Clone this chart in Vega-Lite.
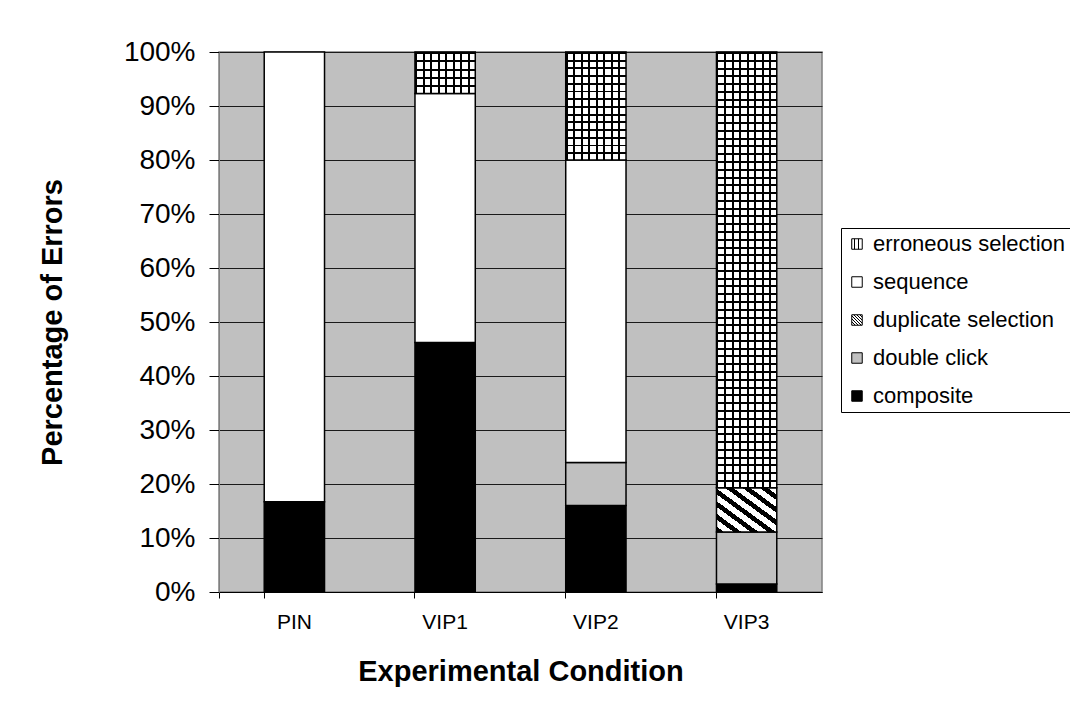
{
  "$schema": "https://vega.github.io/schema/vega-lite/v6.json",
  "width": 603,
  "height": 540,
  "autosize": {"type": "none"},
  "padding": {"left": 219, "top": 52, "right": 248, "bottom": 128},
  "background": "#ffffff",
  "config": {
    "font": "Liberation Sans",
    "view": {"fill": "#C0C0C0", "stroke": "#808080", "strokeWidth": 1.5},
    "axis": {"labelFont": "Liberation Sans", "titleFont": "Liberation Sans", "labelColor": "#000000", "titleColor": "#000000"}
  },
  "data": {
    "values": [
      {"group": "PIN", "type": "composite", "rank": 1, "pct": 16.7},
      {"group": "PIN", "type": "sequence", "rank": 4, "pct": 83.3},
      {"group": "VIP1", "type": "composite", "rank": 1, "pct": 46.2},
      {"group": "VIP1", "type": "sequence", "rank": 4, "pct": 46.1},
      {"group": "VIP1", "type": "erroneous selection", "rank": 5, "pct": 7.7},
      {"group": "VIP2", "type": "composite", "rank": 1, "pct": 16},
      {"group": "VIP2", "type": "double click", "rank": 2, "pct": 8},
      {"group": "VIP2", "type": "sequence", "rank": 4, "pct": 56},
      {"group": "VIP2", "type": "erroneous selection", "rank": 5, "pct": 20},
      {"group": "VIP3", "type": "composite", "rank": 1, "pct": 1.5},
      {"group": "VIP3", "type": "double click", "rank": 2, "pct": 9.6},
      {"group": "VIP3", "type": "duplicate selection", "rank": 3, "pct": 8.2},
      {"group": "VIP3", "type": "erroneous selection", "rank": 5, "pct": 80.7}
    ]
  },
  "encoding": {
    "x": {
      "field": "group",
      "type": "nominal",
      "sort": ["PIN", "VIP1", "VIP2", "VIP3"],
      "scale": {"paddingInner": 0.6, "paddingOuter": 0.3},
      "axis": {
        "title": "Experimental Condition",
        "titleFontSize": 29,
        "titleFontWeight": "bold",
        "titlePadding": 25,
        "labelFontSize": 21,
        "labelAngle": 0,
        "labelPadding": 13,
        "tickSize": 6,
        "tickColor": "#000000",
        "domainColor": "#000000",
        "bandPosition": 0,
        "tickExtra": true,
        "grid": false
      }
    },
    "y": {
      "field": "pct",
      "type": "quantitative",
      "stack": "normalize",
      "scale": {"domain": [0, 1]},
      "axis": {
        "title": "Percentage of Errors",
        "titleFontSize": 29,
        "titleFontWeight": "bold",
        "titlePadding": 56,
        "labelFontSize": 28,
        "labelPadding": 14,
        "tickSize": 10,
        "tickColor": "#000000",
        "domainColor": "#808080",
        "format": ".0%",
        "values": [0, 0.1, 0.2, 0.3, 0.4, 0.5, 0.6, 0.7, 0.8, 0.9, 1],
        "grid": true,
        "gridColor": "#1a1a1a",
        "gridWidth": 1
      }
    },
    "order": {"field": "rank", "type": "quantitative"}
  },
  "layer": [
    {
      "mark": {"type": "bar", "stroke": "#000000", "strokeWidth": 1.5},
      "encoding": {
        "fill": {
          "field": "type",
          "type": "nominal",
          "scale": {
            "domain": ["erroneous selection", "sequence", "duplicate selection", "double click", "composite"],
            "range": [
              {"expr": "{gradient:'linear',x1:0,y1:0,x2:1,y2:0,stops:[{offset:0,color:'#000'},{offset:0.033,color:'#000'},{offset:0.033,color:'#fff'},{offset:0.125,color:'#fff'},{offset:0.125,color:'#000'},{offset:0.158,color:'#000'},{offset:0.158,color:'#fff'},{offset:0.25,color:'#fff'},{offset:0.25,color:'#000'},{offset:0.283,color:'#000'},{offset:0.283,color:'#fff'},{offset:0.375,color:'#fff'},{offset:0.375,color:'#000'},{offset:0.408,color:'#000'},{offset:0.408,color:'#fff'},{offset:0.5,color:'#fff'},{offset:0.5,color:'#000'},{offset:0.533,color:'#000'},{offset:0.533,color:'#fff'},{offset:0.625,color:'#fff'},{offset:0.625,color:'#000'},{offset:0.658,color:'#000'},{offset:0.658,color:'#fff'},{offset:0.75,color:'#fff'},{offset:0.75,color:'#000'},{offset:0.783,color:'#000'},{offset:0.783,color:'#fff'},{offset:0.875,color:'#fff'},{offset:0.875,color:'#000'},{offset:0.908,color:'#000'},{offset:0.908,color:'#fff'},{offset:1,color:'#fff'}]}"},
              "#ffffff",
              {"expr": "{gradient:'linear',x1:0,y1:1,x2:1,y2:0,stops:[{offset:0,color:'#000'},{offset:0.0643,color:'#000'},{offset:0.0643,color:'#fff'},{offset:0.1429,color:'#fff'},{offset:0.1429,color:'#000'},{offset:0.2071,color:'#000'},{offset:0.2071,color:'#fff'},{offset:0.2857,color:'#fff'},{offset:0.2857,color:'#000'},{offset:0.35,color:'#000'},{offset:0.35,color:'#fff'},{offset:0.4286,color:'#fff'},{offset:0.4286,color:'#000'},{offset:0.4929,color:'#000'},{offset:0.4929,color:'#fff'},{offset:0.5714,color:'#fff'},{offset:0.5714,color:'#000'},{offset:0.6357,color:'#000'},{offset:0.6357,color:'#fff'},{offset:0.7143,color:'#fff'},{offset:0.7143,color:'#000'},{offset:0.7786,color:'#000'},{offset:0.7786,color:'#fff'},{offset:0.8571,color:'#fff'},{offset:0.8571,color:'#000'},{offset:0.9214,color:'#000'},{offset:0.9214,color:'#fff'},{offset:1,color:'#fff'}]}"},
              "#C0C0C0",
              "#000000"
            ]
          },
          "legend": {
            "title": null,
            "orient": "none",
            "legendX": 622,
            "legendY": 176,
            "padding": 5,
            "strokeColor": "#000000",
            "fillColor": "#ffffff",
            "labelFont": "Liberation Sans",
            "labelFontSize": 22,
            "labelColor": "#000000",
            "labelLimit": 400,
            "labelOffset": 5,
            "symbolType": "square",
            "symbolSize": 110,
            "symbolStrokeColor": "#000000",
            "symbolStrokeWidth": 1,
            "symbolOpacity": 1,
            "rowPadding": 16
          }
        }
      }
    },
    {
      "mark": {"type": "bar", "strokeWidth": 0},
      "encoding": {
        "detail": {"field": "type", "type": "nominal"},
        "fill": {
          "condition": [
            {
              "test": "datum.type === 'erroneous selection' && datum.group === 'VIP1'",
              "value": {"gradient": "linear", "x1": 0, "y1": 0, "x2": 0, "y2": 1, "stops": [
                {"offset": 0, "color": "#000"}, {"offset": 0.05, "color": "#000"}, {"offset": 0.05, "color": "transparent"}, {"offset": 0.2, "color": "transparent"},
                {"offset": 0.2, "color": "#000"}, {"offset": 0.25, "color": "#000"}, {"offset": 0.25, "color": "transparent"}, {"offset": 0.4, "color": "transparent"},
                {"offset": 0.4, "color": "#000"}, {"offset": 0.45, "color": "#000"}, {"offset": 0.45, "color": "transparent"}, {"offset": 0.6, "color": "transparent"},
                {"offset": 0.6, "color": "#000"}, {"offset": 0.65, "color": "#000"}, {"offset": 0.65, "color": "transparent"}, {"offset": 0.8, "color": "transparent"},
                {"offset": 0.8, "color": "#000"}, {"offset": 0.85, "color": "#000"}, {"offset": 0.85, "color": "transparent"}, {"offset": 1, "color": "transparent"}
              ]}
            },
            {
              "test": "datum.type === 'erroneous selection' && datum.group === 'VIP2'",
              "value": {"gradient": "linear", "x1": 0, "y1": 0, "x2": 0, "y2": 1, "stops": [
                {"offset": 0, "color": "#000"}, {"offset": 0.0179, "color": "#000"}, {"offset": 0.0179, "color": "transparent"}, {"offset": 0.0714, "color": "transparent"},
                {"offset": 0.0714, "color": "#000"}, {"offset": 0.0893, "color": "#000"}, {"offset": 0.0893, "color": "transparent"}, {"offset": 0.1429, "color": "transparent"},
                {"offset": 0.1429, "color": "#000"}, {"offset": 0.1607, "color": "#000"}, {"offset": 0.1607, "color": "transparent"}, {"offset": 0.2143, "color": "transparent"},
                {"offset": 0.2143, "color": "#000"}, {"offset": 0.2321, "color": "#000"}, {"offset": 0.2321, "color": "transparent"}, {"offset": 0.2857, "color": "transparent"},
                {"offset": 0.2857, "color": "#000"}, {"offset": 0.3036, "color": "#000"}, {"offset": 0.3036, "color": "transparent"}, {"offset": 0.3571, "color": "transparent"},
                {"offset": 0.3571, "color": "#000"}, {"offset": 0.375, "color": "#000"}, {"offset": 0.375, "color": "transparent"}, {"offset": 0.4286, "color": "transparent"},
                {"offset": 0.4286, "color": "#000"}, {"offset": 0.4464, "color": "#000"}, {"offset": 0.4464, "color": "transparent"}, {"offset": 0.5, "color": "transparent"},
                {"offset": 0.5, "color": "#000"}, {"offset": 0.5179, "color": "#000"}, {"offset": 0.5179, "color": "transparent"}, {"offset": 0.5714, "color": "transparent"},
                {"offset": 0.5714, "color": "#000"}, {"offset": 0.5893, "color": "#000"}, {"offset": 0.5893, "color": "transparent"}, {"offset": 0.6429, "color": "transparent"},
                {"offset": 0.6429, "color": "#000"}, {"offset": 0.6607, "color": "#000"}, {"offset": 0.6607, "color": "transparent"}, {"offset": 0.7143, "color": "transparent"},
                {"offset": 0.7143, "color": "#000"}, {"offset": 0.7321, "color": "#000"}, {"offset": 0.7321, "color": "transparent"}, {"offset": 0.7857, "color": "transparent"},
                {"offset": 0.7857, "color": "#000"}, {"offset": 0.8036, "color": "#000"}, {"offset": 0.8036, "color": "transparent"}, {"offset": 0.8571, "color": "transparent"},
                {"offset": 0.8571, "color": "#000"}, {"offset": 0.875, "color": "#000"}, {"offset": 0.875, "color": "transparent"}, {"offset": 0.9286, "color": "transparent"},
                {"offset": 0.9286, "color": "#000"}, {"offset": 0.9464, "color": "#000"}, {"offset": 0.9464, "color": "transparent"}, {"offset": 1, "color": "transparent"}
              ]}
            },
            {
              "test": "datum.type === 'erroneous selection' && datum.group === 'VIP3'",
              "value": {"gradient": "linear", "x1": 0, "y1": 0, "x2": 0, "y2": 1, "stops": [
                {"offset": 0, "color": "#000"}, {"offset": 0.0046, "color": "#000"}, {"offset": 0.0046, "color": "transparent"}, {"offset": 0.0179, "color": "transparent"},
                {"offset": 0.0179, "color": "#000"}, {"offset": 0.0225, "color": "#000"}, {"offset": 0.0225, "color": "transparent"}, {"offset": 0.0357, "color": "transparent"},
                {"offset": 0.0357, "color": "#000"}, {"offset": 0.0403, "color": "#000"}, {"offset": 0.0403, "color": "transparent"}, {"offset": 0.0536, "color": "transparent"},
                {"offset": 0.0536, "color": "#000"}, {"offset": 0.0582, "color": "#000"}, {"offset": 0.0582, "color": "transparent"}, {"offset": 0.0714, "color": "transparent"},
                {"offset": 0.0714, "color": "#000"}, {"offset": 0.076, "color": "#000"}, {"offset": 0.076, "color": "transparent"}, {"offset": 0.0893, "color": "transparent"},
                {"offset": 0.0893, "color": "#000"}, {"offset": 0.0939, "color": "#000"}, {"offset": 0.0939, "color": "transparent"}, {"offset": 0.1071, "color": "transparent"},
                {"offset": 0.1071, "color": "#000"}, {"offset": 0.1117, "color": "#000"}, {"offset": 0.1117, "color": "transparent"}, {"offset": 0.125, "color": "transparent"},
                {"offset": 0.125, "color": "#000"}, {"offset": 0.1296, "color": "#000"}, {"offset": 0.1296, "color": "transparent"}, {"offset": 0.1429, "color": "transparent"},
                {"offset": 0.1429, "color": "#000"}, {"offset": 0.1475, "color": "#000"}, {"offset": 0.1475, "color": "transparent"}, {"offset": 0.1607, "color": "transparent"},
                {"offset": 0.1607, "color": "#000"}, {"offset": 0.1653, "color": "#000"}, {"offset": 0.1653, "color": "transparent"}, {"offset": 0.1786, "color": "transparent"},
                {"offset": 0.1786, "color": "#000"}, {"offset": 0.1832, "color": "#000"}, {"offset": 0.1832, "color": "transparent"}, {"offset": 0.1964, "color": "transparent"},
                {"offset": 0.1964, "color": "#000"}, {"offset": 0.201, "color": "#000"}, {"offset": 0.201, "color": "transparent"}, {"offset": 0.2143, "color": "transparent"},
                {"offset": 0.2143, "color": "#000"}, {"offset": 0.2189, "color": "#000"}, {"offset": 0.2189, "color": "transparent"}, {"offset": 0.2321, "color": "transparent"},
                {"offset": 0.2321, "color": "#000"}, {"offset": 0.2367, "color": "#000"}, {"offset": 0.2367, "color": "transparent"}, {"offset": 0.25, "color": "transparent"},
                {"offset": 0.25, "color": "#000"}, {"offset": 0.2546, "color": "#000"}, {"offset": 0.2546, "color": "transparent"}, {"offset": 0.2679, "color": "transparent"},
                {"offset": 0.2679, "color": "#000"}, {"offset": 0.2725, "color": "#000"}, {"offset": 0.2725, "color": "transparent"}, {"offset": 0.2857, "color": "transparent"},
                {"offset": 0.2857, "color": "#000"}, {"offset": 0.2903, "color": "#000"}, {"offset": 0.2903, "color": "transparent"}, {"offset": 0.3036, "color": "transparent"},
                {"offset": 0.3036, "color": "#000"}, {"offset": 0.3082, "color": "#000"}, {"offset": 0.3082, "color": "transparent"}, {"offset": 0.3214, "color": "transparent"},
                {"offset": 0.3214, "color": "#000"}, {"offset": 0.326, "color": "#000"}, {"offset": 0.326, "color": "transparent"}, {"offset": 0.3393, "color": "transparent"},
                {"offset": 0.3393, "color": "#000"}, {"offset": 0.3439, "color": "#000"}, {"offset": 0.3439, "color": "transparent"}, {"offset": 0.3571, "color": "transparent"},
                {"offset": 0.3571, "color": "#000"}, {"offset": 0.3617, "color": "#000"}, {"offset": 0.3617, "color": "transparent"}, {"offset": 0.375, "color": "transparent"},
                {"offset": 0.375, "color": "#000"}, {"offset": 0.3796, "color": "#000"}, {"offset": 0.3796, "color": "transparent"}, {"offset": 0.3929, "color": "transparent"},
                {"offset": 0.3929, "color": "#000"}, {"offset": 0.3975, "color": "#000"}, {"offset": 0.3975, "color": "transparent"}, {"offset": 0.4107, "color": "transparent"},
                {"offset": 0.4107, "color": "#000"}, {"offset": 0.4153, "color": "#000"}, {"offset": 0.4153, "color": "transparent"}, {"offset": 0.4286, "color": "transparent"},
                {"offset": 0.4286, "color": "#000"}, {"offset": 0.4332, "color": "#000"}, {"offset": 0.4332, "color": "transparent"}, {"offset": 0.4464, "color": "transparent"},
                {"offset": 0.4464, "color": "#000"}, {"offset": 0.451, "color": "#000"}, {"offset": 0.451, "color": "transparent"}, {"offset": 0.4643, "color": "transparent"},
                {"offset": 0.4643, "color": "#000"}, {"offset": 0.4689, "color": "#000"}, {"offset": 0.4689, "color": "transparent"}, {"offset": 0.4821, "color": "transparent"},
                {"offset": 0.4821, "color": "#000"}, {"offset": 0.4867, "color": "#000"}, {"offset": 0.4867, "color": "transparent"}, {"offset": 0.5, "color": "transparent"},
                {"offset": 0.5, "color": "#000"}, {"offset": 0.5046, "color": "#000"}, {"offset": 0.5046, "color": "transparent"}, {"offset": 0.5179, "color": "transparent"},
                {"offset": 0.5179, "color": "#000"}, {"offset": 0.5225, "color": "#000"}, {"offset": 0.5225, "color": "transparent"}, {"offset": 0.5357, "color": "transparent"},
                {"offset": 0.5357, "color": "#000"}, {"offset": 0.5403, "color": "#000"}, {"offset": 0.5403, "color": "transparent"}, {"offset": 0.5536, "color": "transparent"},
                {"offset": 0.5536, "color": "#000"}, {"offset": 0.5582, "color": "#000"}, {"offset": 0.5582, "color": "transparent"}, {"offset": 0.5714, "color": "transparent"},
                {"offset": 0.5714, "color": "#000"}, {"offset": 0.576, "color": "#000"}, {"offset": 0.576, "color": "transparent"}, {"offset": 0.5893, "color": "transparent"},
                {"offset": 0.5893, "color": "#000"}, {"offset": 0.5939, "color": "#000"}, {"offset": 0.5939, "color": "transparent"}, {"offset": 0.6071, "color": "transparent"},
                {"offset": 0.6071, "color": "#000"}, {"offset": 0.6117, "color": "#000"}, {"offset": 0.6117, "color": "transparent"}, {"offset": 0.625, "color": "transparent"},
                {"offset": 0.625, "color": "#000"}, {"offset": 0.6296, "color": "#000"}, {"offset": 0.6296, "color": "transparent"}, {"offset": 0.6429, "color": "transparent"},
                {"offset": 0.6429, "color": "#000"}, {"offset": 0.6475, "color": "#000"}, {"offset": 0.6475, "color": "transparent"}, {"offset": 0.6607, "color": "transparent"},
                {"offset": 0.6607, "color": "#000"}, {"offset": 0.6653, "color": "#000"}, {"offset": 0.6653, "color": "transparent"}, {"offset": 0.6786, "color": "transparent"},
                {"offset": 0.6786, "color": "#000"}, {"offset": 0.6832, "color": "#000"}, {"offset": 0.6832, "color": "transparent"}, {"offset": 0.6964, "color": "transparent"},
                {"offset": 0.6964, "color": "#000"}, {"offset": 0.701, "color": "#000"}, {"offset": 0.701, "color": "transparent"}, {"offset": 0.7143, "color": "transparent"},
                {"offset": 0.7143, "color": "#000"}, {"offset": 0.7189, "color": "#000"}, {"offset": 0.7189, "color": "transparent"}, {"offset": 0.7321, "color": "transparent"},
                {"offset": 0.7321, "color": "#000"}, {"offset": 0.7367, "color": "#000"}, {"offset": 0.7367, "color": "transparent"}, {"offset": 0.75, "color": "transparent"},
                {"offset": 0.75, "color": "#000"}, {"offset": 0.7546, "color": "#000"}, {"offset": 0.7546, "color": "transparent"}, {"offset": 0.7679, "color": "transparent"},
                {"offset": 0.7679, "color": "#000"}, {"offset": 0.7725, "color": "#000"}, {"offset": 0.7725, "color": "transparent"}, {"offset": 0.7857, "color": "transparent"},
                {"offset": 0.7857, "color": "#000"}, {"offset": 0.7903, "color": "#000"}, {"offset": 0.7903, "color": "transparent"}, {"offset": 0.8036, "color": "transparent"},
                {"offset": 0.8036, "color": "#000"}, {"offset": 0.8082, "color": "#000"}, {"offset": 0.8082, "color": "transparent"}, {"offset": 0.8214, "color": "transparent"},
                {"offset": 0.8214, "color": "#000"}, {"offset": 0.826, "color": "#000"}, {"offset": 0.826, "color": "transparent"}, {"offset": 0.8393, "color": "transparent"},
                {"offset": 0.8393, "color": "#000"}, {"offset": 0.8439, "color": "#000"}, {"offset": 0.8439, "color": "transparent"}, {"offset": 0.8571, "color": "transparent"},
                {"offset": 0.8571, "color": "#000"}, {"offset": 0.8617, "color": "#000"}, {"offset": 0.8617, "color": "transparent"}, {"offset": 0.875, "color": "transparent"},
                {"offset": 0.875, "color": "#000"}, {"offset": 0.8796, "color": "#000"}, {"offset": 0.8796, "color": "transparent"}, {"offset": 0.8929, "color": "transparent"},
                {"offset": 0.8929, "color": "#000"}, {"offset": 0.8975, "color": "#000"}, {"offset": 0.8975, "color": "transparent"}, {"offset": 0.9107, "color": "transparent"},
                {"offset": 0.9107, "color": "#000"}, {"offset": 0.9153, "color": "#000"}, {"offset": 0.9153, "color": "transparent"}, {"offset": 0.9286, "color": "transparent"},
                {"offset": 0.9286, "color": "#000"}, {"offset": 0.9332, "color": "#000"}, {"offset": 0.9332, "color": "transparent"}, {"offset": 0.9464, "color": "transparent"},
                {"offset": 0.9464, "color": "#000"}, {"offset": 0.951, "color": "#000"}, {"offset": 0.951, "color": "transparent"}, {"offset": 0.9643, "color": "transparent"},
                {"offset": 0.9643, "color": "#000"}, {"offset": 0.9689, "color": "#000"}, {"offset": 0.9689, "color": "transparent"}, {"offset": 0.9821, "color": "transparent"},
                {"offset": 0.9821, "color": "#000"}, {"offset": 0.9867, "color": "#000"}, {"offset": 0.9867, "color": "transparent"}, {"offset": 1, "color": "transparent"}
              ]}
            }
          ],
          "value": "transparent"
        }
      }
    }
  ]
}
